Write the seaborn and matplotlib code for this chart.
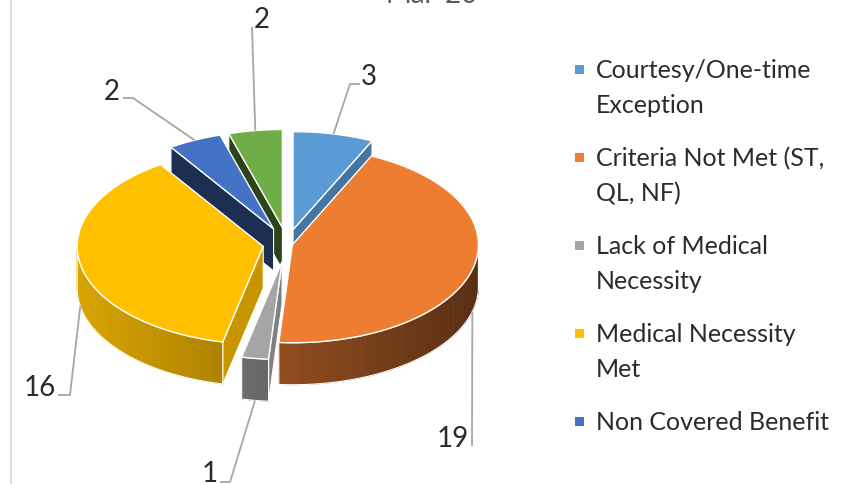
import numpy as np
import matplotlib
matplotlib.use("Agg")
import matplotlib.pyplot as plt
import matplotlib.colors as mcolors
from matplotlib.patches import Polygon
import seaborn as sns

# ─────────────────────────────────────────────────────────────
#  Data
# ─────────────────────────────────────────────────────────────
categories = ["Courtesy/One-time Exception", "Criteria Not Met (ST, QL, NF)",
              "Lack of Medical Necessity", "Medical Necessity Met",
              "Non Covered Benefit", "Other"]
counts = [3, 19, 1, 16, 2, 2]
legend_labels = ["Courtesy/One-time\nException", "Criteria Not Met (ST,\nQL, NF)",
                 "Lack of Medical\nNecessity", "Medical Necessity\nMet",
                 "Non Covered Benefit"]
title = "Mar-20"

# ─────────────────────────────────────────────────────────────
#  Styling / layout (pixel space)
# ─────────────────────────────────────────────────────────────
palette = sns.color_palette(["#5B9BD5", "#ED7D31", "#A5A5A5",
                             "#FFC000", "#4472C4", "#70AD47"])
explode = [0.15, 0.03, 0.18, 0.13, 0.17, 0.17]
CX, CY = 287, 245          # pie centre
RX, RY = 186, 98           # ellipse radii of top face
DEPTH = 42                 # pie thickness

label_pos = [(369, 85), (453, 447), (210, 482), (40, 396), (112, 100), (262, 28)]
leader_via = [[(350, 85), (360, 85)], [(472, 447)], [(230, 483), (220, 483)],
              [(70, 396), (58, 396)], [(133, 99), (123, 99)], [(252, 28)]]

TEXT = "#2B2B2B"
LINE = "#A6A6A6"

sns.set_theme(style="white")
plt.rcParams["font.family"] = ["Lato", "DejaVu Sans"]


def shade(color, f):
    r, g, b = mcolors.to_rgb(color)
    return (r * f, g * f, b * f)


def rim(ox, oy, theta, drop=0.0):
    t = np.radians(theta)
    return ox + RX * np.sin(t), oy - RY * np.cos(t) + drop


def wall_factor(x):
    # Excel-like lighting: sides get darker towards the right
    return 0.85 - (x - 80) / 400 * 0.48


fig = plt.figure(figsize=(8.56, 4.85), dpi=100)
ax = fig.add_axes([0, 0, 1, 1])
ax.set_xlim(0, 856)
ax.set_ylim(485, 0)
ax.axis("off")

total = sum(counts)
slices = []
start = 0.0
for i, v in enumerate(counts):
    end = start + 360.0 * v / total
    mid = (start + end) / 2
    ox = CX + explode[i] * RX * np.sin(np.radians(mid))
    oy = CY - explode[i] * RY * np.cos(np.radians(mid))
    slices.append(dict(i=i, ts=start, te=end, mid=mid, ox=ox, oy=oy))
    start = end

# painter's order: back slices first
order = sorted(slices, key=lambda s: -np.cos(np.radians(s["mid"])))

z = 1
for s in order:
    base = palette[s["i"]]
    ox, oy, ts, te = s["ox"], s["oy"], s["ts"], s["te"]

    # radial cut faces
    faces = []
    if np.sin(np.radians(ts)) < -1e-6:
        faces.append((ts, -np.cos(np.radians(ts))))
    if np.sin(np.radians(te)) > 1e-6:
        faces.append((te, np.cos(np.radians(te))))
    for th, nx in faces:
        rx_, ry_ = rim(ox, oy, th)
        quad = [(ox, oy), (rx_, ry_), (rx_, ry_ + DEPTH), (ox, oy + DEPTH)]
        ax.add_patch(Polygon(quad, closed=True, facecolor=shade(base, 0.58 + 0.2 * nx),
                             edgecolor="white", lw=0.8, zorder=z))
        z += 1

    # outer wall (front half only)
    a0, a1 = max(ts, 90), min(te, 270)
    if a1 > a0:
        thetas = np.linspace(a0, a1, max(int(a1 - a0) + 2, 3))
        for t0, t1 in zip(thetas[:-1], thetas[1:]):
            p0, p1 = rim(ox, oy, t0), rim(ox, oy, t1)
            quad = [p0, p1, (p1[0], p1[1] + DEPTH), (p0[0], p0[1] + DEPTH)]
            col = shade(base, wall_factor((p0[0] + p1[0]) / 2))
            ax.add_patch(Polygon(quad, closed=True, facecolor=col,
                                 edgecolor=col, lw=0.6, zorder=z))
        top = [rim(ox, oy, t) for t in thetas]
        bot = [rim(ox, oy, t, DEPTH) for t in thetas[::-1]]
        ax.add_patch(Polygon(top + bot, closed=True, facecolor="none",
                             edgecolor="white", lw=0.8, zorder=z + 1))
        z += 2

    # top face
    thetas = np.linspace(ts, te, max(int(te - ts) + 2, 3))
    pts = [(ox, oy)] + [rim(ox, oy, t) for t in thetas]
    ax.add_patch(Polygon(pts, closed=True, facecolor=base,
                         edgecolor="white", lw=1.0, zorder=z))
    z += 1

# data labels with leader lines
for s in slices:
    i = s["i"]
    drop = DEPTH if np.cos(np.radians(s["mid"])) < 0 else 0
    anchor = rim(s["ox"], s["oy"], s["mid"], drop)
    path = [anchor] + leader_via[i]
    xs, ys = zip(*path)
    ax.plot(xs, ys, color=LINE, lw=1.3, zorder=z, solid_capstyle="butt")
    lx, ly = label_pos[i]
    ax.text(lx, ly, str(counts[i]), ha="center", va="baseline",
            fontsize=20, color=TEXT, zorder=z + 1)

# legend (first five entries, as in the cropped original)
for k, lab in enumerate(legend_labels):
    y0 = 78 + k * 88
    ax.add_patch(plt.Rectangle((575, y0 - 12), 9, 9, facecolor=palette[k],
                               edgecolor="none", zorder=z))
    for j, line in enumerate(lab.split("\n")):
        ax.text(596, y0 + j * 35, line, ha="left", va="baseline",
                fontsize=18, color=TEXT, zorder=z)

# title (cropped at top) and chart border
ax.text(432, 3, title, ha="center", va="baseline", fontsize=20, color="#595959")
ax.plot([11.5, 11.5], [0, 485], color="#D9D9D9", lw=1.2)

fig.savefig("out.png", dpi=100, facecolor="white")
